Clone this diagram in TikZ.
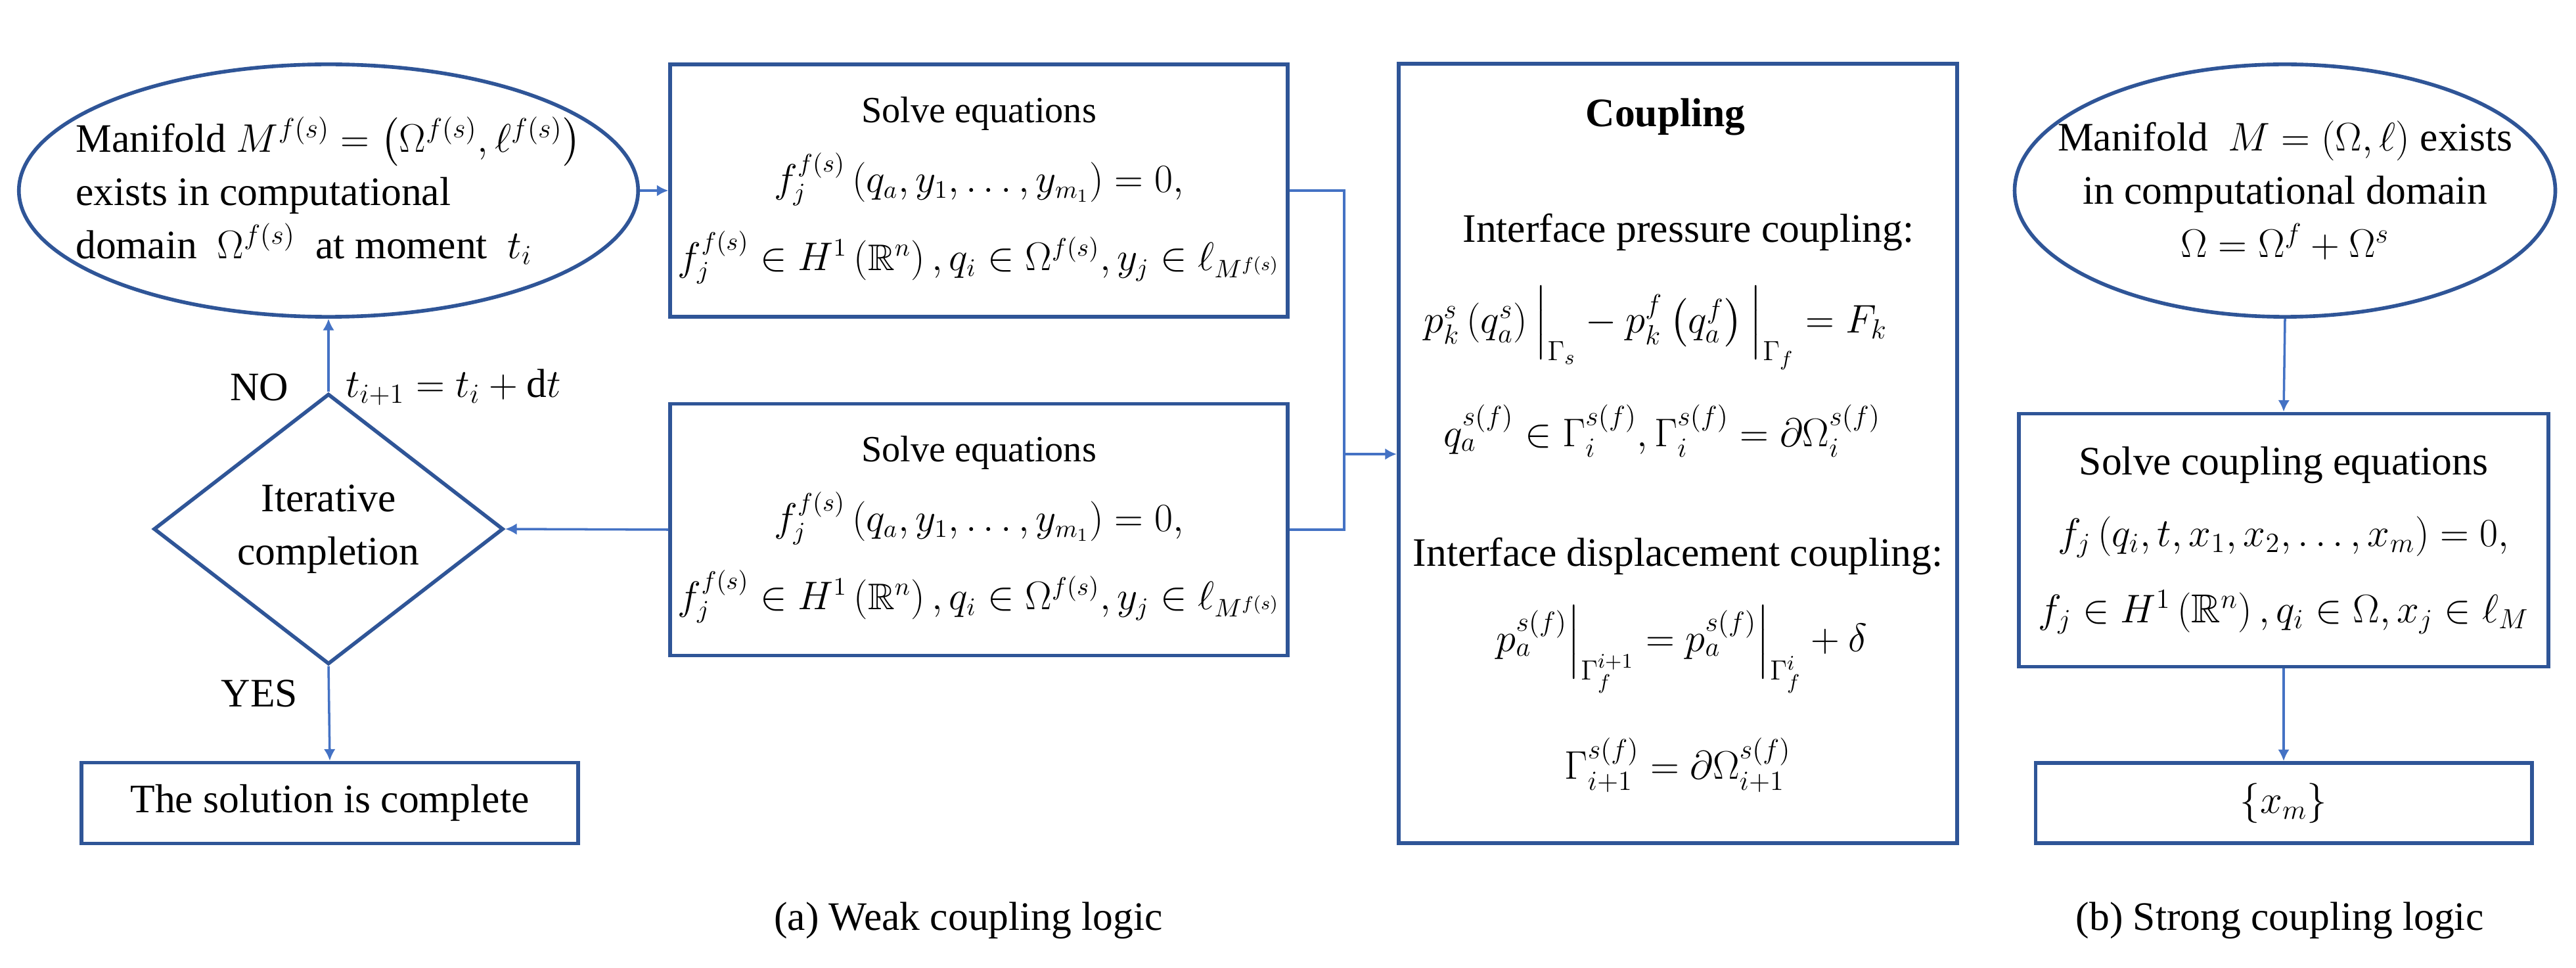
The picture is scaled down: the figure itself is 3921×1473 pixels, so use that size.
\documentclass[tikz,border=0pt]{standalone}
\usepackage{amsmath,amssymb}
\usepackage{fontspec}
\setmainfont{Liberation Serif}
\usetikzlibrary{shapes.geometric,arrows.meta}
\definecolor{bd}{RGB}{47,85,151}
\definecolor{ar}{RGB}{68,114,196}
\begin{document}
\begin{tikzpicture}[x=0.01cm,y=-0.01cm,
  every node/.style={font=\fontsize{17.5}{23}\selectfont},
  box/.style={draw=bd,line width=1.6pt,inner sep=0pt,align=center},
  sm/.style={font=\fontsize{16}{22}\selectfont},
  arr/.style={draw=ar,line width=1pt,-{Latex[length=5pt,width=5pt]}},
  ln/.style={draw=ar,line width=1pt}]
\useasboundingbox (0,0) rectangle (3921,1473);
% left ellipse
\node[box,ellipse,minimum width=9.42cm,minimum height=3.84cm,inner xsep=-0.6cm,align=left] (eL) at (500,290) {Manifold $M^{f(s)}=\left(\Omega^{f(s)},\ell^{f(s)}\right)$\\exists in computational\\domain\ \ $\Omega^{f(s)}$\ \ at moment\ \ $t_i$};
% solve boxes
\node[box,sm,minimum width=9.39cm,minimum height=3.84cm] (s1) at (1490,290) {Solve equations\\[8pt] $f_j^{f(s)}\left(q_a,y_1,\ldots,y_{m_1}\right)=0,$\\[10pt] $f_j^{f(s)}\in H^1\left(\mathbb{R}^n\right),q_i\in\Omega^{f(s)},y_j\in\ell_{M^{f(s)}}$};
\node[box,sm,minimum width=9.39cm,minimum height=3.83cm] (s2) at (1490,806) {Solve equations\\[8pt] $f_j^{f(s)}\left(q_a,y_1,\ldots,y_{m_1}\right)=0,$\\[10pt] $f_j^{f(s)}\in H^1\left(\mathbb{R}^n\right),q_i\in\Omega^{f(s)},y_j\in\ell_{M^{f(s)}}$};
% diamond
\node[box,diamond,minimum width=5.32cm,minimum height=3.13cm] (d) at (500,805) {Iterative\\completion};
\node[box,minimum width=7.55cm,minimum height=1.23cm] (sol) at (502,1222) {The solution is complete};
\node (no) at (395,589) {NO};
\node (ti) at (690,589) {$t_{i+1}=t_i+\mathrm{d}t$};
\node (yes) at (395,1055) {YES};
% coupling
\node[box,minimum width=8.5cm,minimum height=11.85cm] (cp) at (2554,690) {};
\node[font=\fontsize{17.5}{23}\selectfont\bfseries] (cpt) at (2535,178) {Coupling};
\node (c1) at (2570,353) {Interface pressure coupling:};
\node (c2) at (2520,499) {$p_k^s\left(q_a^s\right)\Big|_{\Gamma_s}-p_k^f\left(q_a^f\right)\Big|_{\Gamma_f}=F_k$};
\node (c3) at (2530,656) {$q_a^{s(f)}\in\Gamma_i^{s(f)},\Gamma_i^{s(f)}=\partial\Omega_i^{s(f)}$};
\node (c4) at (2554,846) {Interface displacement coupling:};
\node (c5) at (2560,988) {$p_a^{s(f)}\Big|_{\Gamma_f^{i+1}}=p_a^{s(f)}\Big|_{\Gamma_f^{i}}+\delta$};
\node (c6) at (2554,1164) {$\Gamma_{i+1}^{s(f)}=\partial\Omega_{i+1}^{s(f)}$};
% right side
\node[box,ellipse,minimum width=8.05cm,minimum height=3.84cm,inner xsep=-0.55cm] (eR) at (3478,290) {Manifold\ \ $M=\left(\Omega,\ell\right)$ exists\\in computational domain\\$\Omega=\Omega^f+\Omega^s$};
\node[box,minimum width=8.06cm,minimum height=3.85cm] (sc) at (3476,822) {Solve coupling equations\\[8pt] $f_j\left(q_i,t,x_1,x_2,\ldots,x_m\right)=0,$\\[10pt] $f_j\in H^1\left(\mathbb{R}^n\right),q_i\in\Omega,x_j\in\ell_M$};
\node[box,minimum width=7.55cm,minimum height=1.22cm] (xm) at (3476,1222) {$\left\{x_m\right\}$};
% captions
\node (ca) at (1474,1401) {(a) Weak coupling logic};
\node (cb) at (3470,1401) {(b) Strong coupling logic};
% connectors
\coordinate (j1) at (2046,290);
\coordinate (j2) at (2046,806);
\coordinate (jm) at (2046,691);
\draw[arr] (eL.east) -- (s1.west);
\draw[ln] (s1.east) -- (j1) -- (j2) -- (s2.east);
\draw[arr] (jm) -- (jm -| cp.west);
\draw[arr] (s2.west) -- (d.east);
\draw[arr] (d.north) -- (eL.south);
\draw[arr] (d.south) -- (sol.north);
\draw[arr] (eR.south) -- (sc.north);
\draw[arr] (sc.south) -- (xm.north);
\end{tikzpicture}
\end{document}
